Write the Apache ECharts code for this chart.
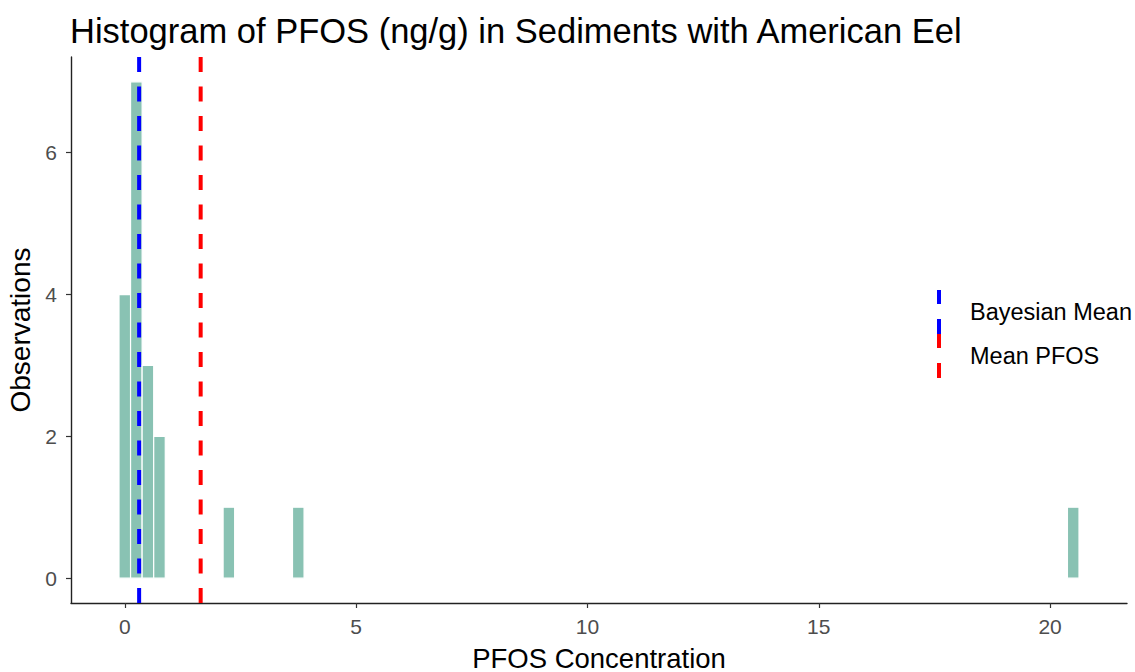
<!DOCTYPE html>
<html>
<head>
<meta charset="utf-8">
<title>Histogram of PFOS (ng/g) in Sediments with American Eel</title>
<script src="https://cdn.jsdelivr.net/npm/echarts@6/dist/echarts.min.js"></script>
<style>
  html, body { margin: 0; padding: 0; background: #fff; overflow: hidden; }
  #chart { width: 1135px; height: 672px; }
</style>
</head>
<body>
<div id="chart"></div>
<script>
// PFOS concentrations binned at 0.25 ng/g; each value is a bin centre
const binCenters = [0, 0.25, 0.5, 0.75, 2.25, 3.75, 20.5];
const binCounts  = [4, 7, 3, 2, 1, 1, 1];
const binWidth = 0.25;

// Reference lines
const bayesianMean = 0.31;
const meanPfos = 1.64;

// Axis limits and tick labels
const xRange = [-1.1625, 21.6625];
const yRange = [-0.35, 7.35];
const xTicks = [0, 5, 10, 15, 20];
const yTicks = [0, 2, 4, 6];

const FONT = "'Liberation Sans', Arial, sans-serif";

const histData = binCenters.map((c, i) => [c, binCounts[i]]);

const vline = (x) => [[x, yRange[0]], [x, yRange[1]]];

const dashKey = 'path://M0,0H4V14H0Z M0,29H4V44H0Z';

const chart = echarts.init(document.getElementById('chart'), null, { renderer: 'svg' });

chart.setOption({
  backgroundColor: '#ffffff',
  animation: false,
  title: {
    text: 'Histogram of PFOS (ng/g) in Sediments with American Eel',
    left: 65,
    top: 9,
    textStyle: { fontFamily: FONT, fontSize: 34.5, fontWeight: 'normal', color: '#000', lineHeight: 33 }
  },
  legend: {
    orient: 'vertical',
    left: 932,
    top: 285,
    itemGap: 0,
    itemWidth: 4,
    itemHeight: 44,
    data: [
      { name: 'Bayesian Mean', icon: dashKey },
      { name: 'Mean PFOS', icon: dashKey }
    ],
    textStyle: { fontFamily: FONT, fontSize: 23.5, color: '#000', padding: [10, 0, 0, 24] }
  },
  grid: { left: 71, top: 57, width: 1056, height: 546, outerBoundsMode: 'none', containLabel: false },
  xAxis: {
    type: 'value',
    min: xRange[0],
    max: xRange[1],
    name: 'PFOS Concentration',
    nameLocation: 'middle',
    nameGap: 42,
    nameTextStyle: { fontFamily: FONT, fontSize: 27.5, lineHeight: 26, color: '#000' },
    axisLine: { show: true, onZero: false, lineStyle: { color: '#222', width: 1.4 } },
    axisTick: { show: true, customValues: xTicks, length: 5, lineStyle: { color: '#333', width: 1.2 } },
    axisLabel: { customValues: xTicks, margin: 13, fontFamily: FONT, fontSize: 21, color: '#4d4d4d' },
    splitLine: { show: false }
  },
  yAxis: {
    type: 'value',
    min: yRange[0],
    max: yRange[1],
    name: 'Observations',
    nameLocation: 'middle',
    nameGap: 27,
    nameRotate: 90,
    nameTextStyle: { fontFamily: FONT, fontSize: 28, color: '#000' },
    axisLine: { show: true, onZero: false, lineStyle: { color: '#222', width: 1.4 } },
    axisTick: { show: true, customValues: yTicks, length: 5, lineStyle: { color: '#333', width: 1.2 } },
    axisLabel: { customValues: yTicks, margin: 14, fontFamily: FONT, fontSize: 21, color: '#4d4d4d' },
    splitLine: { show: false }
  },
  series: [
    {
      name: 'PFOS',
      type: 'custom',
      data: histData,
      encode: { x: 0, y: 1 },
      renderItem: function (params, api) {
        const c = api.value(0);
        const n = api.value(1);
        const p0 = api.coord([c - binWidth / 2, n]);
        const p1 = api.coord([c + binWidth / 2, 0]);
        return {
          type: 'rect',
          shape: { x: p0[0], y: p0[1], width: p1[0] - p0[0], height: p1[1] - p0[1] },
          style: { fill: '#89c2b3', stroke: '#ffffff', lineWidth: 1.2 }
        };
      },
      z: 1
    },
    {
      name: 'Bayesian Mean',
      type: 'line',
      data: vline(bayesianMean),
      symbol: 'none',
      color: '#0000ff',
      lineStyle: { color: '#0000ff', width: 4, type: [15, 14.5] },
      z: 3
    },
    {
      name: 'Mean PFOS',
      type: 'line',
      data: vline(meanPfos),
      symbol: 'none',
      color: '#ff0000',
      lineStyle: { color: '#ff0000', width: 4, type: [15, 14.5] },
      z: 3
    }
  ]
});
</script>
</body>
</html>
